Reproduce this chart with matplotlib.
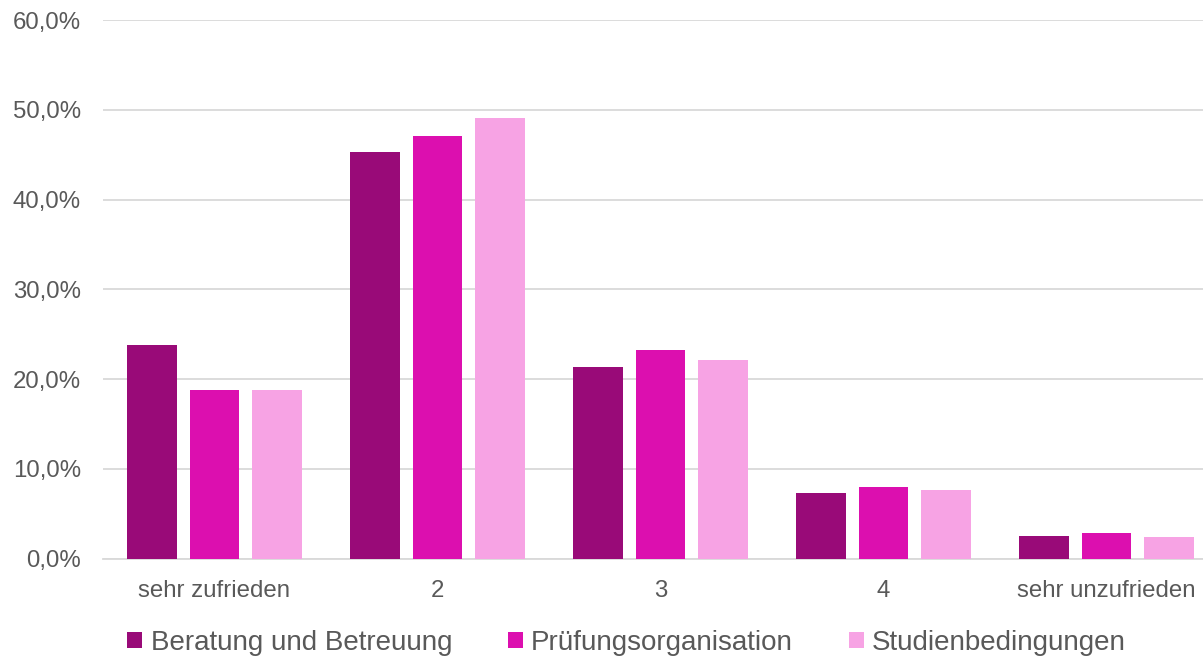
import matplotlib.pyplot as plt
import numpy as np
from matplotlib.patches import Patch
from matplotlib.ticker import FuncFormatter

plt.rcParams["font.family"] = ["Liberation Sans", "DejaVu Sans"]

categories = ["sehr zufrieden", "2", "3", "4", "sehr unzufrieden"]
series_names = ["Beratung und Betreuung", "Prüfungsorganisation", "Studienbedingungen"]
beratung = [23.8, 45.3, 21.3, 7.3, 2.5]
pruefung = [18.8, 47.1, 23.3, 8.0, 2.9]
studien = [18.8, 49.1, 22.1, 7.6, 2.4]
colors = ["#990A78", "#DC0FAF", "#F7A3E4"]

TEXT = "#595959"
GRID = "#D9D9D9"

fig = plt.figure(figsize=(12.03, 6.56), dpi=100)
ax = fig.add_axes([103 / 1203, 97.3 / 656, 1100 / 1203, 538.7 / 656])

x = np.arange(len(categories))
offset, width = 0.28, 0.222
for i, (vals, col) in enumerate(zip([beratung, pruefung, studien], colors)):
    ax.bar(x + (i - 1) * offset, vals, width, color=col, zorder=3)

ax.set_xlim(-0.5, 4.433)
ax.set_ylim(0, 60)
ax.set_yticks(np.arange(0, 61, 10))
ax.yaxis.set_major_formatter(FuncFormatter(lambda v, _: f"{v:.1f}%".replace(".", ",")))
ax.set_xticks(x)
ax.set_xticklabels(categories)

ax.grid(axis="y", color=GRID, linewidth=1.3, zorder=0)
for side in ["top", "right", "left"]:
    ax.spines[side].set_visible(False)
ax.spines["bottom"].set_color(GRID)
ax.spines["bottom"].set_linewidth(1.3)
ax.tick_params(axis="both", length=0, labelsize=17.3, colors=TEXT)
ax.tick_params(axis="y", pad=16)
ax.tick_params(axis="x", pad=15)

handles = [Patch(facecolor=c, edgecolor="none") for c in colors]
fig.legend(handles, series_names, loc="center", bbox_to_anchor=(0.5208, 0.02),
           ncol=3, frameon=False, fontsize=20, labelcolor=TEXT,
           handlelength=0.55, handleheight=0.55, handletextpad=0.3,
           columnspacing=2.0, borderpad=0, borderaxespad=0)

fig.savefig("out.png", dpi=100)
